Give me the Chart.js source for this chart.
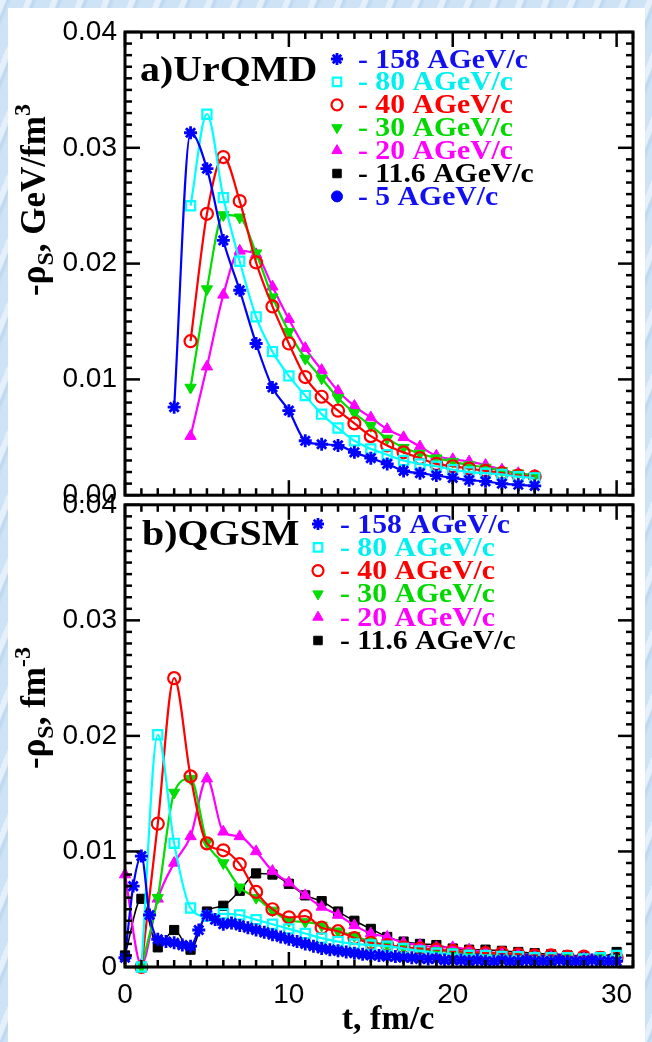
<!DOCTYPE html>
<html><head><meta charset="utf-8">
<script src="https://cdn.jsdelivr.net/npm/chart.js@4/dist/chart.umd.min.js"></script>
<style>
html,body{margin:0;padding:0;}
body{width:652px;height:1042px;position:relative;overflow:hidden;
 background-color:#cfe3f6;
 background-image:repeating-linear-gradient(112deg, rgba(255,255,255,0.45) 0px, rgba(255,255,255,0.45) 5px, rgba(150,190,228,0.35) 7px, rgba(150,190,228,0.0) 11px, rgba(0,0,0,0) 24px);}
#paper{position:absolute;left:8px;top:8px;width:637px;height:1034px;background:#fff;}
#c1{position:absolute;left:0;top:0;}
#c2{position:absolute;left:0;top:480px;}
</style></head>
<body>
<div id="paper"></div>
<canvas id="c1" width="652" height="520"></canvas>
<canvas id="c2" width="652" height="562"></canvas>
<script>
// ---------------- data ----------------
const xTickValues = [0, 10, 20, 30];
const xTickLabels = ['0', '10', '20', '30'];
const yTickValues = [0, 0.01, 0.02, 0.03, 0.04];
const yTickLabelsA = ['0.00', '0.01', '0.02', '0.03', '0.04'];
const yTickLabelsB = ['0', '0.01', '0.02', '0.03', '0.04'];
const energyLabels = ['158 AGeV/c', '80 AGeV/c', '40 AGeV/c', '30 AGeV/c', '20 AGeV/c', '11.6 AGeV/c', '5 AGeV/c'];

// a) UrQMD
const urqmdT158 = [3,4,5,6,7,8,9,10,11,12,13,14,15,16,17,18,19,20,21,22,23,24,25];
const urqmd158 = [0.0076,0.0313,0.0282,0.0220,0.0177,0.0131,0.0093,0.0073,0.0047,0.0044,0.0043,0.0037,0.0032,0.0027,0.0021,0.0019,0.0017,0.0015,0.0013,0.0012,0.0010,0.0009,0.0008];
const urqmdT = [4,5,6,7,8,9,10,11,12,13,14,15,16,17,18,19,20,21,22,23,24,25];
const urqmd80 = [0.0250,0.0329,0.0257,0.0202,0.0154,0.0124,0.0103,0.0086,0.0070,0.0058,0.0047,0.0040,0.0035,0.0030,0.0027,0.0025,0.0022,0.0020,0.0019,0.0018,0.0016,0.0015];
const urqmd40 = [0.0133,0.0243,0.0292,0.0254,0.0201,0.0163,0.0131,0.0102,0.0085,0.0073,0.0062,0.0051,0.0043,0.0037,0.0032,0.0027,0.0025,0.0023,0.0021,0.0019,0.0017,0.0016];
const urqmd30 = [0.0093,0.0178,0.0242,0.0240,0.0209,0.0171,0.0141,0.0118,0.0101,0.0084,0.0071,0.0060,0.0049,0.0041,0.0036,0.0032,0.0029,0.0026,0.0024,0.0021,0.0019,0.0017];
const urqmd20 = [0.0051,0.0111,0.0173,0.0211,0.0208,0.0180,0.0152,0.0127,0.0108,0.0090,0.0077,0.0067,0.0057,0.0050,0.0042,0.0034,0.0031,0.0029,0.0026,0.0022,0.0019,0.0017];
const urqmdT116 = [];
const urqmd116 = [];
const urqmdT5 = [];
const urqmd5 = [];

// b) QGSM
const qgsmT158 = [0,0.5,1,1.5,2,2.5,3,3.5,4,4.5,5,5.5,6,6.5,7,7.5,8,8.5,9,9.5,10,10.5,11,11.5,12,12.5,13,13.5,14,14.5,15,15.5,16,16.5,17,17.5,18,18.5,19,19.5,20,20.5,21,21.5,22,22.5,23,23.5,24,24.5,25,25.5,26,26.5,27,27.5,28,28.5,29,29.5,30];
const qgsm158 = [0.0008,0.0070,0.0096,0.0045,0.0024,0.0022,0.0021,0.0019,0.0018,0.0032,0.0045,0.0041,0.0037,0.0038,0.0036,0.0034,0.0032,0.0030,0.0028,0.0026,0.0024,0.0022,0.0020,0.0018,0.0016,0.0015,0.0014,0.0013,0.0012,0.0011,0.0010,0.0010,0.0009,0.0009,0.0008,0.0008,0.0007,0.0007,0.0007,0.0006,0.0006,0.0006,0.0005,0.0006,0.0005,0.0005,0.0006,0.0005,0.0005,0.0006,0.0005,0.0005,0.0005,0.0006,0.0005,0.0005,0.0005,0.0006,0.0005,0.0005,0.0005];
const qgsmT1 = [1,2,3,4,5,6,7,8,9,10,11,12,13,14,15,16,17,18,19,20,21,22,23,24,25,26,27,28,29,30];
const qgsm80 = [0.0000,0.0201,0.0107,0.0051,0.0044,0.0046,0.0045,0.0041,0.0037,0.0033,0.0029,0.0025,0.0022,0.0020,0.0019,0.0018,0.0016,0.0014,0.0012,0.0011,0.0010,0.0010,0.0009,0.0009,0.0008,0.0008,0.0008,0.0007,0.0008,0.0010];
const qgsm40 = [0.0000,0.0124,0.0250,0.0165,0.0107,0.0101,0.0089,0.0065,0.0050,0.0043,0.0044,0.0034,0.0031,0.0025,0.0021,0.0019,0.0017,0.0016,0.0015,0.0014,0.0013,0.0012,0.0012,0.0011,0.0010,0.0010,0.0009,0.0009,0.0008,0.0008];
const qgsm30 = [0.0000,0.0060,0.0151,0.0163,0.0108,0.0090,0.0069,0.0060,0.0049,0.0040,0.0039,0.0036,0.0031,0.0027,0.0022,0.0019,0.0017,0.0015,0.0014,0.0013,0.0012,0.0011,0.0011,0.0010,0.0010,0.0009,0.0009,0.0008,0.0008,0.0007];
const qgsmT0 = [0,1,2,3,4,5,6,7,8,9,10,11,12,13,14,15,16,17,18,19,20,21,22,23,24,25,26,27,28,29,30];
const qgsm20 = [0.0080,0.0002,0.0059,0.0090,0.0113,0.0163,0.0117,0.0113,0.0100,0.0083,0.0073,0.0062,0.0052,0.0045,0.0036,0.0029,0.0026,0.0021,0.0019,0.0017,0.0017,0.0015,0.0013,0.0012,0.0011,0.0010,0.0009,0.0009,0.0008,0.0008,0.0007];
const qgsm116 = [0.0010,0.0059,0.0017,0.0032,0.0015,0.0048,0.0053,0.0066,0.0081,0.0080,0.0072,0.0062,0.0057,0.0048,0.0040,0.0033,0.0026,0.0022,0.0020,0.0019,0.0016,0.0015,0.0015,0.0014,0.0013,0.0012,0.0011,0.0010,0.0009,0.0009,0.0013];

// ---------------- styles ----------------
const seriesStyle = [
  {color:'#0000ff', text:'#1010f0', pointStyle:'star', fill:'#0000ff', radius:6.5, bw:2.8, rot:0},
  {color:'#00ffff', text:'#00f0f0', pointStyle:'rect', fill:'rgba(255,255,255,0)', radius:6.5, bw:2.2, rot:0},
  {color:'#ff0000', text:'#ff0000', pointStyle:'circle', fill:'rgba(255,255,255,0)', radius:6, bw:2.2, rot:0},
  {color:'#00dd00', text:'#00d800', pointStyle:'triangle', fill:'#00dd00', radius:6.5, bw:1, rot:180},
  {color:'#ff00ff', text:'#ff00ff', pointStyle:'triangle', fill:'#ff00ff', radius:6.5, bw:1, rot:0},
  {color:'#000000', text:'#000000', pointStyle:'rect', fill:'#000000', radius:6.5, bw:1, rot:0},
  {color:'#0000ff', text:'#1010f0', pointStyle:'circle', fill:'#0000ff', radius:6, bw:1, rot:0}
];

function makeDataset(idx, ts, vals, lineW) {
  const s = seriesStyle[idx];
  return {
    label: energyLabels[idx],
    data: ts.map((t, i) => ({x: t, y: vals[i]})),
    borderColor: s.color, borderWidth: lineW, backgroundColor: s.fill,
    pointStyle: s.pointStyle, pointRadius: s.radius, pointBorderWidth: s.bw,
    pointBorderColor: s.color, pointBackgroundColor: s.fill, pointRotation: s.rot,
    pointHoverRadius: s.radius, fill: false, clip: false,
    cubicInterpolationMode: 'monotone', styleIdx: idx
  };
}

const datasetsA = [
  makeDataset(0, urqmdT158, urqmd158, 2.2),
  makeDataset(1, urqmdT, urqmd80, 2.2),
  makeDataset(2, urqmdT, urqmd40, 2.2),
  makeDataset(3, urqmdT, urqmd30, 2.2),
  makeDataset(4, urqmdT, urqmd20, 2.2),
  makeDataset(5, urqmdT116, urqmd116, 2.2),
  makeDataset(6, urqmdT5, urqmd5, 2.2)
];
const datasetsB = [
  makeDataset(0, qgsmT158, qgsm158, 2.2),
  makeDataset(1, qgsmT1, qgsm80, 2.2),
  makeDataset(2, qgsmT1, qgsm40, 2.2),
  makeDataset(3, qgsmT1, qgsm30, 2.2),
  makeDataset(4, qgsmT0, qgsm20, 2.2),
  makeDataset(5, qgsmT0, qgsm116, 1.5)
];

// ---------------- helpers ----------------
function line(ctx, x1, y1, x2, y2) { ctx.beginPath(); ctx.moveTo(x1, y1); ctx.lineTo(x2, y2); ctx.stroke(); }

function richText(ctx, parts, x, y, rotate) {
  ctx.save();
  ctx.translate(x, y);
  if (rotate) ctx.rotate(-Math.PI / 2);
  ctx.textBaseline = 'alphabetic';
  ctx.textAlign = 'left';
  let total = 0;
  parts.forEach(p => { ctx.font = 'bold ' + p.size + 'px "Liberation Serif"'; p.w = ctx.measureText(p.t).width; total += p.w; });
  let cx = -total / 2;
  parts.forEach(p => { ctx.font = 'bold ' + p.size + 'px "Liberation Serif"'; ctx.fillText(p.t, cx, p.dy || 0); cx += p.w; });
  ctx.restore();
}

function stretchedText(ctx, txt, x, y, size, sx, color) {
  ctx.save();
  ctx.translate(x, y);
  ctx.scale(sx, 1);
  ctx.font = 'bold ' + size + 'px "Liberation Serif"';
  ctx.fillStyle = color;
  ctx.textAlign = 'left';
  ctx.textBaseline = 'alphabetic';
  ctx.fillText(txt, 0, 0);
  ctx.restore();
}

const framePlugin = {
  id: 'frame',
  afterDatasetsDraw(chart) {
    const ctx = chart.ctx;
    const {left, right, top, bottom} = chart.chartArea;
    const xs = chart.scales.x, ys = chart.scales.y;
    ctx.save();
    ctx.strokeStyle = '#000';
    ctx.lineCap = 'butt';
    ctx.lineWidth = 2.5;
    for (let k = 0; k <= 31; k++) {
      const px = xs.getPixelForValue(k);
      const L = (k % 10 === 0) ? 15 : 7;
      line(ctx, px, bottom, px, bottom - L);
      line(ctx, px, top, px, top + L);
    }
    for (let k = 0; k <= 40; k++) {
      const py = ys.getPixelForValue(k * 0.001);
      const L = (k % 10 === 0) ? 15 : 7;
      line(ctx, left, py, left + L, py);
      line(ctx, right, py, right - L, py);
    }
    ctx.lineWidth = 3;
    ctx.strokeRect(left, top, right - left, bottom - top);
    ctx.restore();
  }
};

const decorPlugin = {
  id: 'decor',
  afterDraw(chart, args, o) {
    const ctx = chart.ctx;
    ctx.save();
    ctx.fillStyle = '#000';
    stretchedText(ctx, o.panelText, o.panelX, o.panelY, 35, 1.14, '#000');
    chart.data.datasets.forEach((ds, i) => {
      const s = seriesStyle[ds.styleIdx];
      const cy = o.legY + i * o.legDy;
      ctx.save();
      ctx.fillStyle = s.fill;
      ctx.strokeStyle = s.color;
      ctx.lineWidth = s.bw;
      Chart.helpers.drawPoint(ctx, {pointStyle: s.pointStyle, radius: s.radius - 0.5, rotation: s.rot, borderWidth: s.bw}, o.legSymX, cy);
      ctx.restore();
      stretchedText(ctx, '- ' + ds.label, o.legTextX, cy + 8.5, 27, 1.1, s.text);
    });
    ctx.fillStyle = '#000';
    richText(ctx, o.yTitle, o.yTitleX, o.yTitleY, true);
    if (o.xTitle) richText(ctx, o.xTitle, o.xTitleX, o.xTitleY, false);
    ctx.restore();
  }
};

function makeChart(id, datasets, cfg) {
  return new Chart(document.getElementById(id), {
    type: 'line',
    data: {datasets: datasets},
    options: {
      responsive: false, maintainAspectRatio: false, animation: false, devicePixelRatio: 1,
      layout: {padding: {left: 0, right: 19, top: cfg.padTop, bottom: cfg.padBottom}},
      plugins: {legend: {display: false}, tooltip: {enabled: false}, decor: cfg.decor},
      scales: {
        x: {
          type: 'linear', min: 0, max: 31, display: cfg.showX,
          grid: {display: false, drawTicks: false}, border: {display: false},
          afterBuildTicks: s => { s.ticks = xTickValues.map(v => ({value: v})); },
          afterFit: s => { s.height = cfg.xHeight; },
          ticks: {padding: 11, color: '#000', font: {family: 'Liberation Sans', size: 28}, maxRotation: 0,
                  callback: (v, i) => xTickLabels[i]}
        },
        y: {
          type: 'linear', min: 0, max: 0.04,
          grid: {display: false, drawTicks: false}, border: {display: false},
          afterBuildTicks: s => { s.ticks = yTickValues.map(v => ({value: v})); },
          afterFit: s => { s.width = 125; },
          ticks: {padding: 8, color: '#000', font: {family: 'Liberation Sans', size: 28},
                  callback: (v, i) => cfg.yLabels[i]}
        }
      }
    },
    plugins: [framePlugin, decorPlugin]
  });
}

makeChart('c1', datasetsA, {
  padTop: 32, padBottom: 20, showX: false, xHeight: 0, yLabels: yTickLabelsA,
  decor: {
    panelText: 'a)UrQMD', panelX: 140, panelY: 81,
    legSymX: 337, legTextX: 358, legY: 59, legDy: 22.9,
    yTitle: [{t: '-ρ', size: 35}, {t: 'S', size: 24, dy: 8}, {t: ', GeV/fm', size: 35}, {t: '3', size: 24, dy: -15}],
    yTitleX: 45, yTitleY: 200
  }
});

makeChart('c2', datasetsB, {
  padTop: 19, padBottom: 0, showX: true, xHeight: 75, yLabels: yTickLabelsB,
  decor: {
    panelText: 'b)QGSM', panelX: 142, panelY: 65,
    legSymX: 318, legTextX: 340, legY: 44, legDy: 23.3,
    yTitle: [{t: '-ρ', size: 35}, {t: 'S', size: 24, dy: 8}, {t: ', fm', size: 35}, {t: '-3', size: 24, dy: -15}],
    yTitleX: 45, yTitleY: 228,
    xTitle: [{t: 't, fm/c', size: 34}], xTitleX: 388, xTitleY: 549
  }
});
</script>
</body></html>
